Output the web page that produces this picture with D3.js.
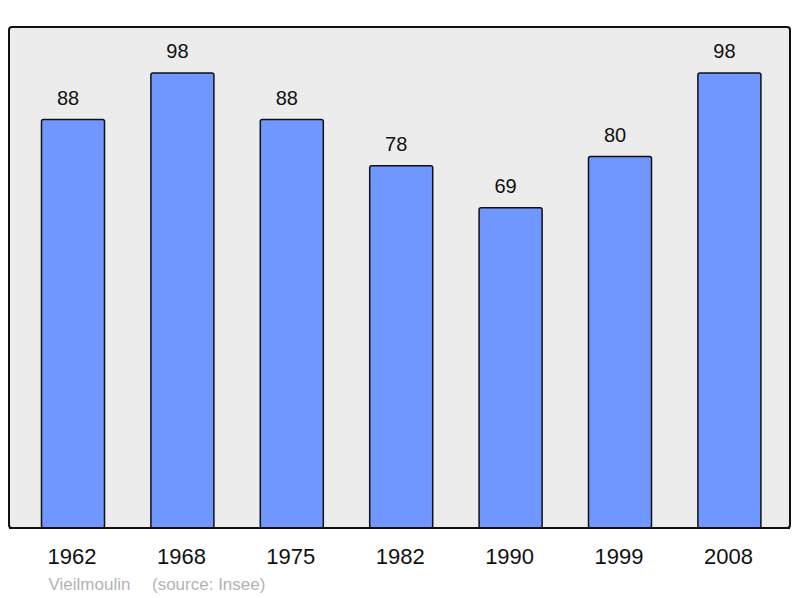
<!DOCTYPE html>
<html>
<head>
<meta charset="utf-8">
<script src="https://cdn.jsdelivr.net/npm/d3@7"></script>
<style>
  body { margin: 0; background: #fff; }
  svg { display: block; font-family: "Liberation Sans", Arial, sans-serif; }
</style>
</head>
<body>
<div id="chart"></div>
<script>
// years and population counts
var years = ["1962", "1968", "1975", "1982", "1990", "1999", "2008"];
var population = [88, 98, 88, 78, 69, 80, 98];
var commune = "Vieilmoulin";
var source = "(source: Insee)";

var width = 800, height = 598;
var panel = {left: 9, top: 27, right: 790, bottom: 528};

var svg = d3.select("#chart")
  .append("svg")
    .attr("width", width)
    .attr("height", height);

// grey background panel
svg.append("rect")
  .attr("x", panel.left)
  .attr("y", panel.top)
  .attr("width", panel.right - panel.left)
  .attr("height", panel.bottom - panel.top)
  .attr("rx", 3)
  .attr("fill", "#ececec")
  .attr("stroke", "#111")
  .attr("stroke-width", 2);

var x = d3.scaleBand()
  .domain(years)
  .range([18.3, 784.1])
  .paddingInner(0.424)
  .paddingOuter(0.212);

var y = d3.scaleLinear()
  .domain([0, 100])
  .range([panel.bottom, panel.bottom - 464.3]);

var data = years.map(function(d, i) { return {year: d, value: population[i]}; });

// bars
svg.selectAll("rect.bar")
  .data(data)
  .enter()
  .append("rect")
    .attr("class", "bar")
    .attr("x", function(d) { return x(d.year); })
    .attr("y", function(d) { return y(d.value); })
    .attr("width", x.bandwidth())
    .attr("height", function(d) { return panel.bottom - y(d.value); })
    .attr("rx", 2)
    .attr("fill", "#7096ff")
    .attr("stroke", "#111")
    .attr("stroke-width", 1.5);

// value labels (sit a bit left of bar centre in the original)
svg.selectAll("text.val")
  .data(data)
  .enter()
  .append("text")
    .attr("class", "val")
    .attr("x", function(d) { return x(d.year) + x.bandwidth() / 2 - 5; })
    .attr("y", function(d) { return y(d.value) - 14.5; })
    .attr("text-anchor", "middle")
    .attr("font-size", 20)
    .attr("fill", "#111")
    .text(function(d) { return d.value; });

// redraw the panel bottom line over the bar strokes
svg.append("line")
  .attr("x1", panel.left).attr("x2", panel.right)
  .attr("y1", panel.bottom).attr("y2", panel.bottom)
  .attr("stroke", "#111")
  .attr("stroke-width", 2);

// x axis labels
var xAxis = svg.append("g")
  .attr("transform", "translate(-1," + panel.bottom + ")")
  .call(d3.axisBottom(x).tickSize(0).tickPadding(20));
xAxis.select(".domain").remove();
xAxis.selectAll("text")
  .attr("dy", null)
  .attr("y", 36)
  .attr("font-size", 22)
  .attr("font-family", "\"Liberation Sans\", Arial, sans-serif")
  .attr("fill", "#111");

// footer
svg.append("text")
  .attr("x", 48.5)
  .attr("y", 590)
  .attr("font-size", 17)
  .attr("fill", "#b3b3b3")
  .text(commune);
svg.append("text")
  .attr("x", 152)
  .attr("y", 590)
  .attr("font-size", 17)
  .attr("fill", "#b3b3b3")
  .text(source);
</script>
</body>
</html>
